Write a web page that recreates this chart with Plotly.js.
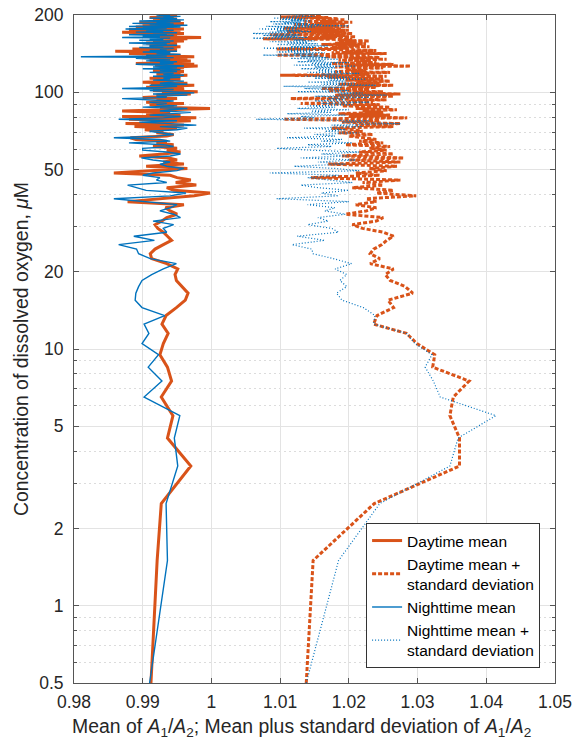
<!DOCTYPE html>
<html>
<head>
<meta charset="utf-8">
<script src="https://cdn.plot.ly/plotly-3.0.1.min.js"></script>
<style>
html,body{margin:0;padding:0;background:#fff;}
#chart{width:574px;height:744px;}
</style>
</head>
<body>
<div id="chart"></div>
<script>
// Dissolved oxygen concentration (µM), sampled every 1 µM
const conc = [
0.5,1.5,2.5,3.5,4.5,5.5,6.5,7.5,8.5,9.5,10.5,11.5,12.5,13.5,14.5,15.5,16.5,17.5,18.5,19.5,
20.5,21.5,22.5,23.5,24.5,25.5,26.5,27.5,28.5,29.5,30.5,31.5,32.5,33.5,34.5,35.5,36.5,37.5,38.5,39.5,
40.5,41.5,42.5,43.5,44.5,45.5,46.5,47.5,48.5,49.5,50.5,51.5,52.5,53.5,54.5,55.5,56.5,57.5,58.5,59.5,
60.5,61.5,62.5,63.5,64.5,65.5,66.5,67.5,68.5,69.5,70.5,71.5,72.5,73.5,74.5,75.5,76.5,77.5,78.5,79.5,
80.5,81.5,82.5,83.5,84.5,85.5,86.5,87.5,88.5,89.5,90.5,91.5,92.5,93.5,94.5,95.5,96.5,97.5,98.5,99.5,
100.5,101.5,102.5,103.5,104.5,105.5,106.5,107.5,108.5,109.5,110.5,111.5,112.5,113.5,114.5,115.5,116.5,117.5,118.5,119.5,
120.5,121.5,122.5,123.5,124.5,125.5,126.5,127.5,128.5,129.5,130.5,131.5,132.5,133.5,134.5,135.5,136.5,137.5,138.5,139.5,
140.5,141.5,142.5,143.5,144.5,145.5,146.5,147.5,148.5,149.5,150.5,151.5,152.5,153.5,154.5,155.5,156.5,157.5,158.5,159.5,
160.5,161.5,162.5,163.5,164.5,165.5,166.5,167.5,168.5,169.5,170.5,171.5,172.5,173.5,174.5,175.5,176.5,177.5,178.5,179.5,
180.5,181.5,182.5,183.5,184.5,185.5,186.5,187.5,188.5,189.5,190.5,191.5,192.5,193.5,194.5,195.5,196.5,197.5,198.5,199.5
];

const dayMean = [
0.9912,0.9921,0.9927,0.9970,0.9936,0.9944,0.9927,0.9942,0.9936,0.9925,0.9930,0.9937,0.9928,0.9934,0.9949,0.9962,0.9966,0.9957,0.9949,0.9947,0.9951,0.9935,0.9913,0.9911,0.9918,0.9930,
0.9942,0.9936,0.9930, 0.9922,0.9918,0.9928, 0.9935,0.9950,0.9940, 0.9933,0.9960,0.9878,
0.9930,0.9975,0.9998,0.9945, 0.9935,0.9978,0.9948,0.9970, 0.9950,0.9940,0.9858,0.9910,
0.9965,0.9905,0.9960,0.9930,0.9950, 0.9938,0.9895,0.9930,0.9955,0.9935,
0.9950,0.9915,0.9945,0.9920,0.9935,0.9890, 0.9882,0.9935,0.9945,0.9920,0.9930,0.9903,
0.9950,0.9888,0.9960,0.9875,0.9935,0.9970,
0.9880,0.9978,0.9870,0.9955,0.9905,0.9940,0.9870,0.9950,
0.9998,0.9925,0.9945,0.9910,0.9960,0.9905,0.9940,0.9920,
0.9950,0.9900,0.9935,0.9920,0.9970,0.9928,0.9980,0.9915,0.9955,
0.9960,0.9905,0.9935,0.9975,0.9912,0.9965,0.9900,0.9945,0.9925,0.9955,
0.9910,0.9950,0.9930,0.9965,0.9920,0.9955,0.9935,0.9960,0.9915,0.9940,
0.9925,0.9960,0.9945,0.9980,0.9918,0.9975,0.9890,0.9950,0.9925,0.9970,0.9910,0.9955,
0.9965,0.9900,0.9975,0.9930,0.9955,0.9915,0.9880,0.9940,0.9925,0.9860,0.9935,0.9950,
0.9885,0.9940,0.9925,0.9955,0.9910,0.9935,0.9920,0.9950,0.9905,0.9945,0.9915,0.9960,0.9930,0.9940,
0.9965,0.9925,0.9985,0.9920,0.9950,0.9910,0.9940,0.9930,0.9960,0.9915,0.9870,0.9945,0.9925,0.9955,0.9880,
0.9960,0.9910,0.9935,0.9890,0.9945,0.9920,0.9900,0.9950,0.9930,0.9960,0.9895,0.9940,0.9920,0.9955,0.9935,0.9915,
0.9950,0.9925,0.9940,0.9910,0.9945,0.9930,0.9950,0.9935
];

const daySD = [
1.0138,1.0148,1.0237,1.0361,1.0361,1.0347,1.0352,1.0375,1.0322,1.0325,1.0299,1.0284,1.0236,1.0241,1.0265,1.0257,1.0293,1.0282,1.0260,1.0253,1.0265,1.0231,1.0245,1.0231,1.0236,1.0248,
1.0255,1.0265,1.0250, 1.0220,1.0205,1.0240, 1.0250,1.0195,1.0225, 1.0240,1.0210,1.0240,
1.0225,1.0298,1.0240,1.0265, 1.0205,1.0250,1.0220,1.0275, 1.0145,1.0245,1.0210,1.0255,
1.0230,1.0270,1.0170,1.0275,1.0200, 1.0280,1.0190,1.0265,1.0215,1.0255,
1.0230,1.0260,1.0195,1.0250,1.0215,1.0240, 1.0220,1.0200,1.0235,1.0185,1.0220,1.0205,
1.0175,1.0265,1.0210,1.0275,1.0190,1.0245,
1.0105,1.0285,1.0200,1.0260,1.0185,1.0250,1.0220,1.0270,
1.0210,1.0260,1.0190,1.0245,1.0130,1.0235,1.0200,1.0255,
1.0115,1.0215,1.0265,1.0180,1.0275,1.0205,1.0250,1.0170,1.0230,
1.0160,1.0240,1.0200,1.0265,1.0185,1.0245,1.0210,1.0260,1.0195,1.0250,
1.0225,1.0170,1.0255,1.0100,1.0230,1.0205,1.0260,1.0180,1.0225,1.0195,
1.0215,1.0250,1.0180,1.0290,1.0200,1.0265,1.0175,1.0240,1.0210,1.0230,1.0185,1.0255,
1.0200,1.0245,1.0165,1.0230,1.0095,1.0210,1.0255,1.0175,1.0220,1.0195,1.0240,1.0185,
1.0095,1.0200,1.0175,1.0230,1.0190,1.0215,1.0160,1.0225,1.0180,1.0210,1.0195,1.0230,1.0185,1.0205,
1.0075,1.0180,1.0135,1.0210,1.0160,1.0195,1.0085,1.0175,1.0205,1.0145,1.0190,1.0110,1.0170,1.0200,1.0150,
1.0190,1.0105,1.0175,1.0140,1.0200,1.0160,1.0185,1.0120,1.0195,1.0150,1.0175,1.0205,1.0135,1.0180,1.0160,1.0195,
1.0155,1.0185,1.0120,1.0170,1.0100,1.0160,1.0140,1.0130
];

const nightMean = [
0.9910,0.9936,0.9934,0.9951,0.9946,0.9954,0.9902,0.9928,0.9908,0.9923,0.9899,0.9909,0.9902,0.9932,0.9899,0.9889,0.9890,0.9894,0.9899,0.9913,0.9930,0.9949,0.9911,0.9894,0.9891,0.9865,
0.9917,0.9887,0.9935, 0.9930,0.9945,0.9915, 0.9955,0.9945,0.9925, 0.9940,0.9950,0.9900,
0.9858,0.9940,0.9963,0.9905, 0.9890,0.9878,0.9935,0.9920, 0.9925,0.9900,0.9915,0.9950,
0.9960,0.9935,0.9925,0.9940,0.9915, 0.9898,0.9940,0.9955,0.9935,0.9900,
0.9900,0.9945,0.9930,0.9880,0.9940,0.9925, 0.9858,0.9920,0.9945,0.9930,0.9910,0.9950,
0.9965,0.9925,0.9978,0.9940,0.9895,0.9950,
0.9865,0.9930,0.9955,0.9910,0.9940,0.9970,0.9925,0.9940,
0.9965,0.9900,0.9950,0.9920,0.9935,0.9910,0.9945,0.9905,
0.9870,0.9935,0.9920,0.9965,0.9915,0.9975,0.9940,0.9910,0.9945,
0.9870,0.9930,0.9950,0.9910,0.9965,0.9925,0.9945,0.9960,0.9915,0.9940,
0.9930,0.9955,0.9915,0.9960,0.9930,0.9945,0.9910,0.9950,0.9925,0.9955,
0.9900,0.9950,0.9915,0.9960,0.9935,0.9890,0.9945,0.9925,0.9950,0.9905,0.9940,0.9920,
0.9890,0.9945,0.9810,0.9935,0.9905,0.9955,0.9920,0.9940,0.9900,0.9950,0.9910,0.9935,
0.9925,0.9945,0.9895,0.9930,0.9910,0.9950,0.9900,0.9935,0.9880,0.9940,0.9915,0.9945,0.9895,0.9930,
0.9910,0.9940,0.9870,0.9925,0.9900,0.9945,0.9880,0.9935,0.9915,0.9950,0.9890,0.9930,0.9905,0.9945,0.9920,
0.9875,0.9935,0.9900,0.9955,0.9880,0.9930,0.9965,0.9910,0.9945,0.9885,0.9940,0.9920,0.9955,0.9895,0.9935,0.9960,
0.9925,0.9950,0.9910,0.9945,0.9930,0.9955,0.9920,0.9940
];

const nightSD = [
1.0138,1.0185,1.0245,1.0347,1.0359,1.0414,1.0333,1.0323,1.0311,1.0321,1.0296,1.0284,1.0236,1.0238,1.0221,1.0190,1.0182,1.0197,1.0187,1.0197,1.0180,1.0204,1.0177,1.0148,1.0146,1.0117,
1.0165,1.0125,1.0185, 1.0175,1.0140,1.0170, 1.0155,1.0195,1.0165, 1.0180,1.0140,1.0200,
1.0095,1.0185,1.0160,1.0200, 1.0155,1.0130,1.0205,1.0170, 1.0140,1.0185,1.0085,1.0215,
1.0180,1.0120,1.0195,1.0155,1.0210, 1.0130,1.0200,1.0160,1.0215,1.0145,
1.0095,1.0175,1.0140,1.0205,1.0160,1.0190, 1.0110,1.0180,1.0150,1.0215,1.0165,1.0195,
1.0135,1.0220,1.0175,1.0275,1.0190,1.0230,
1.0065,1.0150,1.0130,1.0195,1.0110,1.0175,1.0145,1.0200,
1.0125,1.0180,1.0140,1.0205,1.0160,1.0230,1.0150,1.0195,
1.0170,1.0230,1.0150,1.0255,1.0185,1.0220,1.0125,1.0200,1.0160,
1.0135,1.0190,1.0105,1.0240,1.0160,1.0210,1.0140,1.0195,1.0170,1.0225,
1.0150,1.0200,1.0135,1.0185,1.0160,1.0215,1.0140,1.0190,1.0155,1.0175,
1.0130,1.0180,1.0150,1.0210,1.0120,1.0175,1.0145,1.0200,1.0125,1.0165,1.0140,1.0185,
1.0115,1.0170,1.0130,1.0160,1.0075,1.0150,1.0120,1.0165,1.0095,1.0145,1.0110,1.0160,
1.0130,1.0075,1.0150,1.0115,1.0170,1.0125,1.0095,1.0155,1.0110,1.0140,1.0085,1.0150,1.0120,1.0135,
1.0100,1.0060,1.0140,1.0090,1.0125,1.0075,1.0130,1.0105,1.0060,1.0120,1.0085,1.0145,1.0095,1.0130,1.0110,
1.0070,1.0125,1.0095,1.0150,1.0080,1.0200,1.0120,1.0160,1.0090,1.0140,1.0105,1.0130,1.0085,1.0145,1.0115,1.0135,
1.0100,1.0140,1.0090,1.0125,1.0110,1.0150,1.0120,1.0135
];

const seriesNames = ['Daytime mean','Daytime mean +<br>standard deviation','Nighttime mean','Nighttime mean +<br>standard deviation'];
const xTicks = [0.98,0.99,1.00,1.01,1.02,1.03,1.04,1.05];
const xTickText = ['0.98','0.99','1','1.01','1.02','1.03','1.04','1.05'];
const yTicks = [0.5,1,2,5,10,20,50,100,200];
const yTickText = ['0.5','1','2','5','10','20','50','100','200'];
const yMinor = [0.6,0.7,0.8,0.9,3,4,6,7,8,9,30,40,60,70,80,90];
const xTitle = 'Mean of <i>A</i><sub>1</sub>/<i>A</i><sub>2</sub>; Mean plus standard deviation of <i>A</i><sub>1</sub>/<i>A</i><sub>2</sub>';
const yTitle = 'Concentration of dissolved oxygen, <i>μ</i>M';

const ORANGE = '#D95319', BLUE = '#0072BD';

const traces = [
  {x: dayMean, y: conc, name: seriesNames[0], mode:'lines', line:{color:ORANGE, width:3}},
  {x: daySD, y: conc, name: seriesNames[1], mode:'lines', line:{color:ORANGE, width:3, dash:'4px,2px'}},
  {x: nightMean, y: conc, name: seriesNames[2], mode:'lines', line:{color:BLUE, width:1.4}},
  {x: nightSD, y: conc, name: seriesNames[3], mode:'lines', line:{color:BLUE, width:1.2, dash:'1px,2px'}}
];

const font = {family:'Liberation Sans, Arial, sans-serif', color:'#262626'};

const layout = {
  width:574, height:744,
  margin:{l:74, r:19, t:15, b:61, pad:0},
  paper_bgcolor:'#fff', plot_bgcolor:'#fff',
  font:font,
  showlegend:true,
  xaxis:{
    range:[0.98,1.05], tickvals:xTicks, ticktext:xTickText,
    showgrid:true, gridcolor:'#e3e3e3', gridwidth:1,
    zeroline:false, showline:true, linecolor:'#555', linewidth:1, mirror:'ticks',
    ticks:'inside', ticklen:5, tickcolor:'#555',
    tickfont:{size:17.5, color:'#262626'}, ticklabelstandoff:3
  },
  yaxis:{
    type:'log', range:[Math.log10(0.5), Math.log10(200)],
    tickvals:yTicks, ticktext:yTickText,
    showgrid:true, gridcolor:'#e3e3e3', gridwidth:1,
    zeroline:false, showline:true, linecolor:'#555', linewidth:1, mirror:'ticks',
    ticks:'inside', ticklen:5, tickcolor:'#555',
    tickfont:{size:17.5, color:'#262626'}, ticklabelstandoff:6,
    minor:{tickvals:yMinor, showgrid:true, gridcolor:'#dcdcdc', griddash:'2px,3px', gridwidth:1, ticks:'inside', ticklen:3, tickcolor:'#555'},
    title:{text:yTitle, font:{size:19.4, color:'#262626'}, standoff:0}
  },
  annotations:[
    {text:xTitle, xref:'paper', yref:'paper', x:0.5, y:0, xanchor:'center', yanchor:'top',
     xshift:-13, yshift:-30, showarrow:false, font:{size:19.4, color:'#262626'}}
  ],
  legend:{
    x:0.969, y:0.0225, xanchor:'right', yanchor:'bottom',
    bgcolor:'#fff', bordercolor:'#333', borderwidth:1,
    font:{size:15.5, color:'#000'}, tracegroupgap:0, valign:'middle'
  }
};

Plotly.newPlot('chart', traces, layout, {staticPlot:true, displayModeBar:false});
</script>
</body>
</html>
